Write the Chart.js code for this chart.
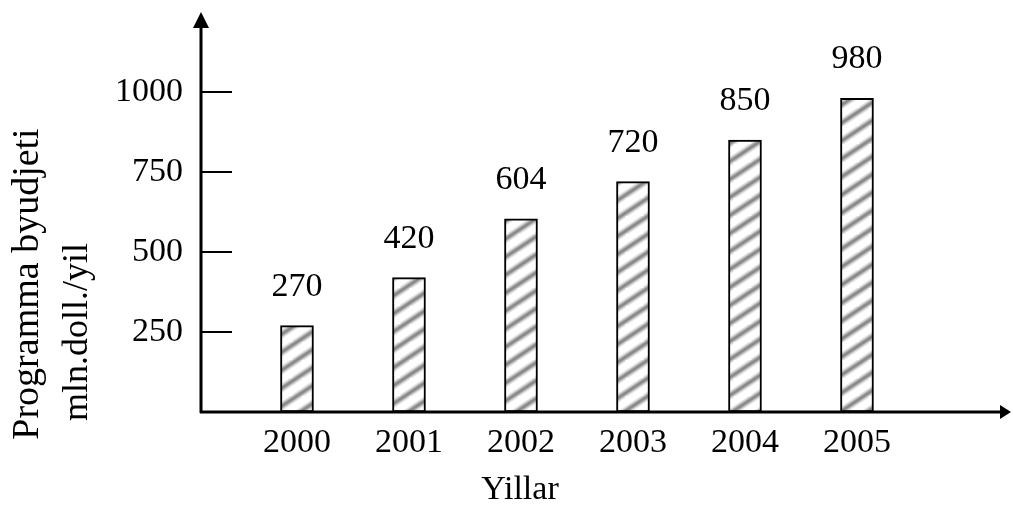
<!DOCTYPE html>
<html>
<head>
<meta charset="utf-8">
<script src="https://cdn.jsdelivr.net/npm/chart.js@4/dist/chart.umd.min.js"></script>
<style>
  html, body { margin: 0; padding: 0; background: #fff; }
  #wrap { width: 1013px; height: 507px; }
</style>
</head>
<body>
<div id="wrap"><canvas id="c" width="1013" height="507"></canvas></div>
<script>
// Budget of the programme per year
const years = ['2000', '2001', '2002', '2003', '2004', '2005'];
const budget = [270, 420, 604, 720, 850, 980];
const yTicks = [250, 500, 750, 1000];
const yTitleLines = ['Programma byudjeti', 'mln.doll./yil'];
const xTitle = 'Yillar';

const FONT = '"Liberation Serif", "Times New Roman", serif';

// Diagonal grey hatch used to fill the bars
function makeHatch() {
  const W = 27, H = 18;
  const c = document.createElement('canvas');
  c.width = W; c.height = H;
  const g = c.getContext('2d');
  g.fillStyle = '#ffffff';
  g.fillRect(0, 0, W, H);
  const dx = 3, dy = dx * H / W;
  const stroke = (w, col) => {
    g.strokeStyle = col;
    g.lineWidth = w;
    for (const k of [-W, 0, W]) {
      g.beginPath();
      g.moveTo(k - dx, H + dy);
      g.lineTo(k + W + dx, -dy);
      g.stroke();
    }
  };
  stroke(8, '#e2e2e2');
  stroke(5, '#b4b4b4');
  stroke(2.5, '#8a8a8a');
  return g.createPattern(c, 'repeat');
}

// Axes with arrowheads, short tick marks, value labels and titles
const decorations = {
  id: 'decorations',
  afterDatasetsDraw(chart) {
    const { ctx, chartArea: a, scales } = chart;
    const y = scales.y;
    ctx.save();
    ctx.fillStyle = '#000';
    ctx.strokeStyle = '#000';

    // value labels above bars
    ctx.font = '34px ' + FONT;
    ctx.textAlign = 'center';
    ctx.textBaseline = 'bottom';
    chart.getDatasetMeta(0).data.forEach((bar, i) => {
      ctx.fillText(String(budget[i]), bar.x, bar.y - 22);
    });

    // y axis with arrow
    ctx.lineWidth = 3;
    ctx.beginPath();
    ctx.moveTo(a.left, a.bottom + 1);
    ctx.lineTo(a.left, a.top + 12);
    ctx.stroke();
    ctx.beginPath();
    ctx.moveTo(a.left, a.top);
    ctx.lineTo(a.left - 8, a.top + 16);
    ctx.lineTo(a.left + 8, a.top + 16);
    ctx.closePath();
    ctx.fill();

    // x axis with arrow
    ctx.beginPath();
    ctx.moveTo(a.left - 1, a.bottom);
    ctx.lineTo(a.right - 8, a.bottom);
    ctx.stroke();
    ctx.beginPath();
    ctx.moveTo(a.right, a.bottom);
    ctx.lineTo(a.right - 11, a.bottom - 7);
    ctx.lineTo(a.right - 11, a.bottom + 7);
    ctx.closePath();
    ctx.fill();

    // tick marks pointing into the plot
    ctx.lineWidth = 2;
    yTicks.forEach(v => {
      const py = Math.round(y.getPixelForValue(v));
      ctx.beginPath();
      ctx.moveTo(a.left, py);
      ctx.lineTo(a.left + 31, py);
      ctx.stroke();
    });

    // x title
    ctx.font = '34px ' + FONT;
    ctx.textAlign = 'center';
    ctx.textBaseline = 'middle';
    ctx.fillText(xTitle, 520, 490);

    // y title, two rotated lines
    const lines = [
      { t: yTitleLines[0], x: 28, y: 284, size: 38 },
      { t: yTitleLines[1], x: 78, y: 332, size: 36 }
    ];
    lines.forEach(l => {
      ctx.save();
      ctx.font = l.size + 'px ' + FONT;
      ctx.translate(l.x, l.y);
      ctx.rotate(-Math.PI / 2);
      ctx.fillText(l.t, 0, 0);
      ctx.restore();
    });
    ctx.restore();
  }
};

const Y_AXIS_W = 201;
const X_AXIS_H = 507 - 412;
const SLOT = 112;
const X_MIN = -0.857;
const X_MAX = X_MIN + (1011 - 201) / SLOT;

new Chart(document.getElementById('c'), {
  type: 'bar',
  data: {
    datasets: [{
      data: budget.map((v, i) => ({ x: i, y: v })),
      backgroundColor: makeHatch(),
      borderColor: '#000',
      borderWidth: 2,
      borderSkipped: false,
      barThickness: 33
    }]
  },
  options: {
    responsive: false,
    animation: false,
    devicePixelRatio: 1,
    layout: { padding: { left: 0, right: 2, top: 12, bottom: 0 } },
    plugins: { legend: { display: false }, tooltip: { enabled: false } },
    scales: {
      x: {
        type: 'linear',
        min: X_MIN,
        max: X_MAX,
        offset: false,
        bounds: 'data',
        grid: { display: false, offset: false },
        border: { display: false },
        afterBuildTicks(scale) {
          scale.ticks = years.map((_, i) => ({ value: i }));
        },
        afterFit(scale) {
          scale.height = X_AXIS_H;
          scale.paddingLeft = 0;
          scale.paddingRight = 0;
        },
        ticks: {
          autoSkip: false,
          maxRotation: 0,
          padding: 3,
          color: '#000',
          font: { family: FONT, size: 34 },
          callback: v => years[v] ?? ''
        }
      },
      y: {
        min: 0,
        max: 1250,
        grid: { display: false, drawTicks: false },
        border: { display: false },
        afterBuildTicks(scale) {
          scale.ticks = yTicks.map(v => ({ value: v }));
        },
        afterFit(scale) {
          scale.width = Y_AXIS_W;
          scale.paddingTop = 0;
          scale.paddingBottom = 0;
        },
        ticks: {
          padding: 18,
          color: '#000',
          font: { family: FONT, size: 34 },
          callback: v => String(v)
        }
      }
    }
  },
  plugins: [decorations]
});
</script>
</body>
</html>
